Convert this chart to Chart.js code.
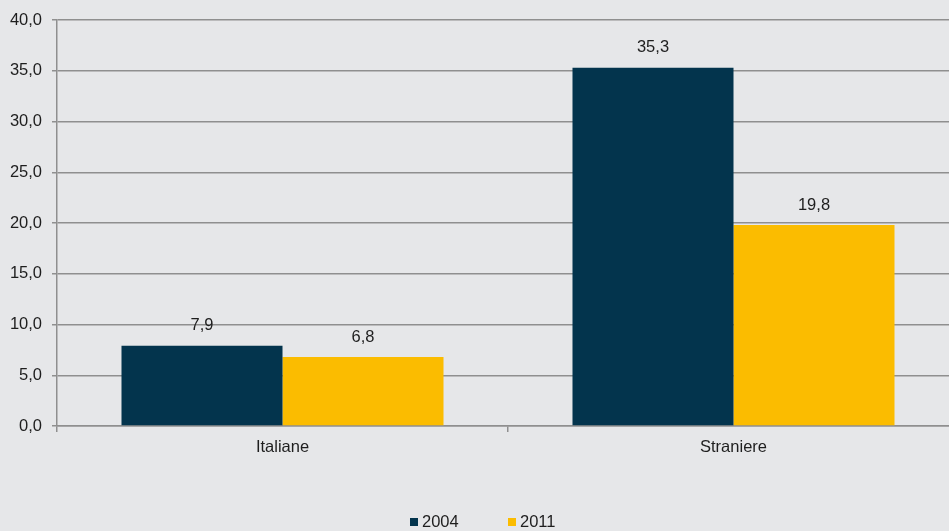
<!DOCTYPE html>
<html>
<head>
<meta charset="utf-8">
<script src="https://cdn.jsdelivr.net/npm/chart.js@4/dist/chart.umd.min.js"></script>
<style>
  html, body { margin: 0; padding: 0; background: #e6e7e9; overflow: hidden; }
  #wrap { width: 960px; height: 531px; position: relative; }
</style>
</head>
<body>
<div id="wrap"><canvas id="chart"></canvas></div>
<script>
// data
const categories = ['Italiane', 'Straniere'];
const series2004 = [7.9, 35.3];
const series2011 = [6.8, 19.8];
const yTicks = [0, 5, 10, 15, 20, 25, 30, 35, 40];

const fmt = v => v.toFixed(1).replace('.', ',');
const FONT = { family: '"Liberation Sans", Arial, sans-serif', size: 16.5 };

// value labels above bars
const barLabels = {
    id: 'barLabels',
    afterDatasetsDraw(chart) {
        const ctx = chart.ctx;
        ctx.save();
        ctx.font = FONT.size + 'px ' + FONT.family;
        ctx.fillStyle = '#1e1e1e';
        ctx.textAlign = 'center';
        ctx.textBaseline = 'middle';
        chart.data.datasets.forEach((ds, i) => {
            chart.getDatasetMeta(i).data.forEach((bar, j) => {
                ctx.fillText(fmt(ds.data[j]), bar.x, bar.y - 20);
            });
        });
        ctx.restore();
    }
};

// legend at the bottom
const bottomLegend = {
    id: 'bottomLegend',
    afterDraw(chart) {
        const ctx = chart.ctx;
        ctx.save();
        ctx.font = FONT.size + 'px ' + FONT.family;
        ctx.textBaseline = 'middle';
        ctx.textAlign = 'left';
        const starts = [410, 508];
        chart.data.datasets.forEach((ds, i) => {
            const x = starts[i];
            ctx.fillStyle = ds.backgroundColor;
            ctx.fillRect(x, 518, 8, 8);
            ctx.fillStyle = '#1e1e1e';
            ctx.fillText(ds.label, x + 12, 522);
        });
        ctx.restore();
    }
};

new Chart(document.getElementById('chart'), {
    type: 'bar',
    data: {
        labels: categories,
        datasets: [
            { label: '2004', data: series2004, backgroundColor: '#03344d' },
            { label: '2011', data: series2011, backgroundColor: '#fbbc00' }
        ]
    },
    options: {
        responsive: true,
        maintainAspectRatio: false,
        animation: false,
        layout: { padding: { top: 20, right: 1, left: 0, bottom: 0 } },
        datasets: { bar: { barPercentage: 1, categoryPercentage: 0.714 } },
        plugins: {
            legend: { display: false },
            tooltip: { enabled: false }
        },
        scales: {
            x: {
                grid: { drawOnChartArea: false, color: '#8f8f8f', lineWidth: 1.5, tickLength: 6 },
                border: { color: '#8f8f8f', width: 1.5 },
                ticks: { color: '#1e1e1e', font: FONT, padding: 6 },
                afterFit(scale) { scale.height = 105; }
            },
            y: {
                min: 0,
                max: 40,
                afterBuildTicks(scale) { scale.ticks = yTicks.map(v => ({ value: v })); },
                grid: { color: '#8f8f8f', lineWidth: 1.5, tickLength: 5 },
                border: { color: '#8f8f8f', width: 1.5 },
                ticks: { color: '#1e1e1e', font: FONT, padding: 10, callback: v => fmt(v) },
                afterFit(scale) { scale.width = 57; }
            }
        }
    },
    plugins: [barLabels, bottomLegend]
});
</script>
</body>
</html>
